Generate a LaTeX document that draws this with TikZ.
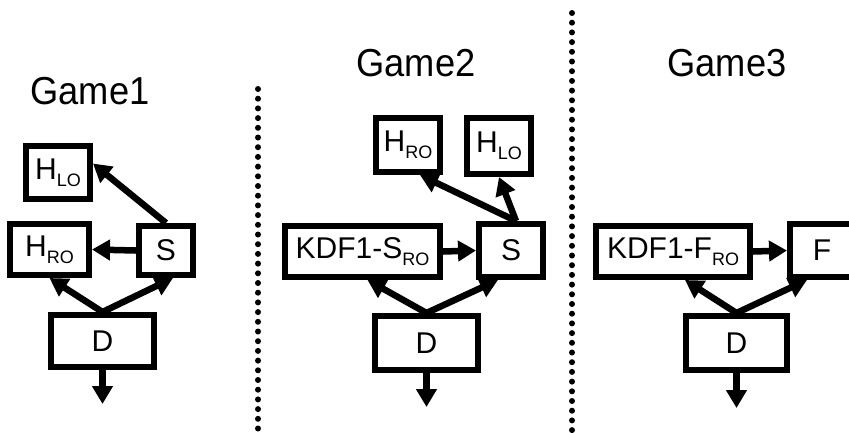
\documentclass[tikz,border=0pt]{standalone}
\usepackage{fontspec}
\setmainfont{Liberation Sans}
\usetikzlibrary{arrows.meta}
\newcommand{\sbx}[1]{\raisebox{-7pt}{\fontsize{18}{18}\selectfont #1}}
\newcommand{\ttl}[1]{\scalebox{0.93}[1]{#1}}
\tikzset{
  box/.style={draw, line width=6pt, inner sep=0pt, font=\fontsize{30}{34}\selectfont},
  conn/.style={line width=6.5pt, -{Triangle[width=20pt,length=18pt]}},
  title/.style={font=\fontsize{39}{42}\selectfont, anchor=base},
  sep/.style={line width=6pt, line cap=round, dash pattern=on 0pt off 9.7pt},
}
\begin{document}
\begin{tikzpicture}[x=1pt,y=-1pt]
\clip (0,0) rectangle (849,432);
\useasboundingbox (0,0) rectangle (849,432);
% titles
\node[title] (t1) at (90,104) {\ttl{Game1}};
\node[title] (t2) at (416,76) {\ttl{Game2}};
\node[title] (t3) at (727,76) {\ttl{Game3}};
% separators
\coordinate (s1a) at (258,89);
\coordinate (s1b) at (258,436);
\coordinate (s2a) at (572,13);
\coordinate (s2b) at (572,436);
\draw[sep] (s1a) -- (s1b);
\draw[sep] (s2a) -- (s2b);
% Game1
\node[box, minimum width=64pt, minimum height=53pt] (hlo1) at (58,172.5) {H\sbx{LO}};
\node[box, minimum width=79pt, minimum height=51pt] (hro1) at (49.5,249.5) {H\sbx{RO}};
\node[box, minimum width=54pt, minimum height=49pt] (s1) at (166,250.5) {S};
\node[box, minimum width=103pt, minimum height=52pt] (d1) at (102.5,341) {D};
\coordinate (o1) at (102.5,404);
\draw[conn] (d1.north) -- ([xshift=0pt]hro1.south);
\draw[conn] (d1.north) -- ([xshift=7pt]s1.south);
\draw[conn] (s1.west) -- (hro1.east);
\draw[conn] (s1.north) -- ([yshift=9pt]hlo1.east);
\draw[conn] (d1.south) -- (o1);
% Game2
\node[box, minimum width=64pt, minimum height=54pt] (hro2) at (408,145) {H\sbx{RO}};
\node[box, minimum width=64pt, minimum height=56pt] (hlo2) at (499,146) {H\sbx{LO}};
\node[box, minimum width=155pt, minimum height=51pt] (k2) at (362.5,251.5) {KDF1-S\sbx{RO}};
\node[box, minimum width=64pt, minimum height=53pt] (s2) at (511,250.5) {S};
\node[box, minimum width=103pt, minimum height=54pt] (d2) at (426.5,343) {D};
\coordinate (o2) at (426.5,407);
\draw[conn] (d2.north) -- ([xshift=5pt]k2.south);
\draw[conn] (d2.north) -- ([xshift=-13pt]s2.south);
\draw[conn] (k2.east) -- (s2.west);
\draw[conn] ([xshift=5pt]s2.north) -- (hlo2.south);
\draw[conn] ([xshift=5pt]s2.north) -- ([xshift=12pt]hro2.south);
\draw[conn] (d2.south) -- (o2);
% Game3
\node[box, minimum width=154pt, minimum height=51pt] (k3) at (673,251.5) {KDF1-F\sbx{RO}};
\node[box, minimum width=64pt, minimum height=53pt] (f3) at (822,250.5) {F\hspace{10pt}};
\node[box, minimum width=101pt, minimum height=54pt] (d3) at (736.5,343) {D};
\coordinate (o3) at (736.5,408);
\draw[conn] (d3.north) -- ([xshift=12pt]k3.south);
\draw[conn] (d3.north) -- ([xshift=-15pt]f3.south);
\draw[conn] (k3.east) -- (f3.west);
\draw[conn] (d3.south) -- (o3);
\end{tikzpicture}
\end{document}
